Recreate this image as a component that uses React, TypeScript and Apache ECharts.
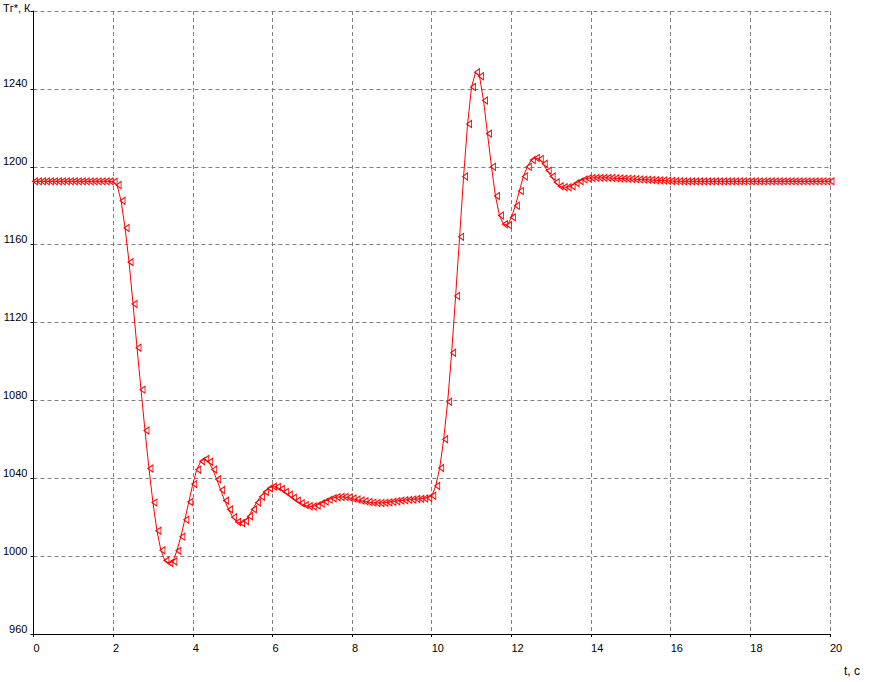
import React, { useEffect, useRef } from "react";
import * as echarts from "echarts";

// Sampling: one point every 0.1 s from 0 to 20 s
const timeStep = 0.1;

// Tr* values, K (one value per 0.1 s)
const flatStart = [
  1192.5, 1192.5, 1192.5, 1192.5, 1192.5, 1192.5, 1192.5, 1192.5, 1192.5, 1192.5,
  1192.5, 1192.5, 1192.5, 1192.5, 1192.5, 1192.5, 1192.5, 1192.5, 1192.5, 1192.5,
];
const firstDrop = [
  1192.3, 1190.6, 1182.5, 1168.5, 1151, 1129.5, 1107, 1085.5, 1064.5, 1045,
  1027.5, 1013, 1003, 997.7, 996.4, 997.2, 1002.7, 1010, 1018.7, 1027.8,
  1037, 1044.4, 1048.7, 1049.9, 1048.5, 1044.5, 1039.5, 1034, 1028.5, 1024,
  1020, 1017.5, 1017, 1018, 1020.5, 1024, 1027.5, 1030.5, 1033, 1034.8,
  1035.7, 1035.5, 1034.5, 1033, 1031.5, 1030, 1028.5, 1027.2, 1026.2, 1025.6,
  1025.5, 1026, 1027, 1028, 1029, 1029.7, 1030.2, 1030.4, 1030.4, 1030.1,
  1029.6, 1029.1, 1028.6, 1028.2, 1027.8, 1027.5, 1027.3, 1027.3, 1027.4, 1027.6,
  1027.9, 1028.2, 1028.5, 1028.7, 1028.9, 1029.1, 1029.3, 1029.4, 1029.6, 1030,
];
const secondRise = [
  1031, 1036, 1045.3, 1060, 1079.3, 1104.5, 1133.6, 1164, 1195, 1222,
  1241, 1248.5, 1246.5, 1234, 1217, 1200, 1185, 1175, 1170.5, 1170,
  1174, 1180, 1187.5, 1195, 1200, 1203.5, 1204.5, 1204, 1201.5, 1198,
  1195, 1192, 1190, 1189.5, 1189.5, 1190, 1191.5, 1192.5, 1193.5, 1194,
];
const flatEnd = [
  1194.2, 1194.3, 1194.3, 1194.3, 1194.3, 1194.2, 1194.1, 1194, 1193.9, 1193.8,
  1193.7, 1193.6, 1193.5, 1193.4, 1193.3, 1193.2, 1193.1, 1193, 1192.9, 1192.8,
  1192.7, 1192.6, 1192.6, 1192.5, 1192.5, 1192.5, 1192.5, 1192.5, 1192.5, 1192.5,
  1192.5, 1192.5, 1192.5, 1192.5, 1192.5, 1192.5, 1192.5, 1192.5, 1192.5, 1192.5,
  1192.5, 1192.5, 1192.5, 1192.5, 1192.5, 1192.5, 1192.5, 1192.5, 1192.5, 1192.5,
  1192.5, 1192.5, 1192.5, 1192.5, 1192.5, 1192.5, 1192.5, 1192.5, 1192.5, 1192.5,
  1192.5,
];
const tempValues = [...flatStart, ...firstDrop, ...secondRise, ...flatEnd];

// Axis ticks
const xTicks = [0, 2, 4, 6, 8, 10, 12, 14, 16, 18, 20];
const yTicks = [960, 1000, 1040, 1080, 1120, 1160, 1200, 1240, 1280];

const yAxisTitle = "Тг*, К";
const xAxisTitle = "t, с";

const FONT = "'Liberation Sans', Arial, sans-serif";

export default function App() {
  const ref = useRef<HTMLDivElement>(null);

  useEffect(() => {
    if (!ref.current) return;
    const chart = echarts.init(ref.current, undefined, { renderer: "svg" });
    const data = tempValues.map((v, i) => [Math.round(i * timeStep * 10) / 10, v]);

    const axisCommon = {
      axisLine: { show: true, lineStyle: { color: "#000", width: 1 } },
      axisTick: { show: true, length: 3, inside: false, lineStyle: { color: "#000" } },
      splitLine: {
        show: true,
        lineStyle: { color: "#808080", width: 1, type: [4, 3] as number[] },
      },
    };

    chart.setOption({
      animation: false,
      backgroundColor: "#fff",
      grid: { left: 33, right: 41, top: 11, bottom: 48, containLabel: false },
      xAxis: {
        type: "value",
        min: xTicks[0],
        max: xTicks[xTicks.length - 1],
        interval: 2,
        ...axisCommon,
        axisLabel: {
          color: "#000",
          fontSize: 11,
          fontFamily: FONT,
          align: "left",
          margin: 8,
          showMinLabel: true,
          showMaxLabel: true,
        },
      },
      yAxis: {
        type: "value",
        min: yTicks[0],
        max: yTicks[yTicks.length - 1],
        interval: 40,
        ...axisCommon,
        axisLabel: {
          color: "#000",
          fontSize: 11,
          fontFamily: FONT,
          margin: 6,
          verticalAlign: "bottom",
          formatter: (v: number) => (v === yTicks[yTicks.length - 1] ? "" : String(v)),
        },
      },
      graphic: [
        {
          type: "text",
          left: 3,
          top: 2,
          style: { text: yAxisTitle, fill: "#000", font: `11px ${FONT}` },
        },
        {
          type: "text",
          left: 844,
          top: 665,
          style: { text: xAxisTitle, fill: "#000", font: `12px ${FONT}` },
        },
      ],
      series: [
        {
          type: "line",
          data,
          showAllSymbol: true,
          symbol: "path://M0,5L6,0L6,10Z",
          symbolSize: [5, 7],
          symbolOffset: [1.5, 0],
          lineStyle: { color: "#ff0000", width: 1 },
          itemStyle: { color: "rgba(0,0,0,0)", borderColor: "#ff0000", borderWidth: 1 },
          emphasis: { disabled: true },
          silent: true,
          z: 3,
        },
      ],
    });

    return () => chart.dispose();
  }, []);

  return (
    <div
      ref={ref}
      style={{ position: "fixed", left: 0, top: 0, width: 871, height: 682, background: "#fff" }}
    />
  );
}
